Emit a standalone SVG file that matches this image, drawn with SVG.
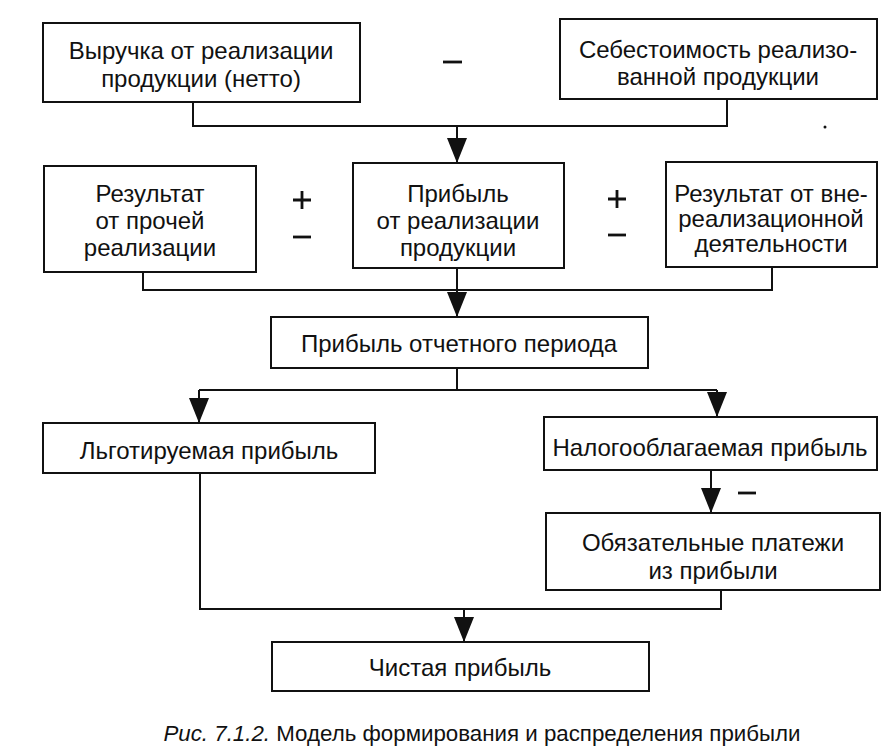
<svg xmlns="http://www.w3.org/2000/svg" width="888" height="751" viewBox="0 0 888 751">
<defs>
<marker id="arr" viewBox="0 0 25 20" refX="25" refY="10" markerWidth="25" markerHeight="20" markerUnits="userSpaceOnUse" orient="auto">
<path d="M0,0 L25,10 L0,20 Z" fill="#111"/>
</marker>
<style>
rect.box{fill:#fff;stroke:#111;stroke-width:2}
text{font-family:"Liberation Sans",Arial,sans-serif;font-size:24px;fill:#111;text-anchor:middle}
.conn path{fill:none;stroke:#111;stroke-width:2}
.sign{stroke:#111;stroke-width:2.8;fill:none}
.cap{font-size:22.3px}
</style>
</defs>
<rect width="888" height="751" fill="#fff"/>

<g class="conn" id="connectors">
<path d="M193,102 V126 H727 V99"/>
<path d="M457,126 V163" marker-end="url(#arr)"/>
<path d="M143,272 V290 H772 V267"/>
<path d="M457,268 V317" marker-end="url(#arr)"/>
<path d="M457,368 V390"/>
<path d="M199,390 H717"/>
<path d="M199,390 V423" marker-end="url(#arr)"/>
<path d="M717,390 V417" marker-end="url(#arr)"/>
<path d="M711,470 V513" marker-end="url(#arr)"/>
<path d="M200,473 V609 H721 V590"/>
<path d="M464,609 V642" marker-end="url(#arr)"/>
</g>

<g id="signs">
<path class="sign" d="M443,62 H462"/>
<path class="sign" d="M293,200 H311 M302,191 V209"/>
<path class="sign" d="M293,237 H311"/>
<path class="sign" d="M608,199 H626 M617,190 V208"/>
<path class="sign" d="M608,235 H626"/>
<path class="sign" d="M738,493 H756"/>
<circle cx="825" cy="127" r="1.5" fill="#111"/>
</g>

<g id="revenue">
<rect class="box" x="43" y="23" width="317" height="79"/>
<text x="201" y="59">Выручка от реализации</text>
<text x="201" y="87">продукции (нетто)</text>
</g>

<g id="cost">
<rect class="box" x="560" y="19" width="317" height="80"/>
<text x="718" y="58">Себестоимость реализо-</text>
<text x="718" y="85">ванной продукции</text>
</g>

<g id="other-result">
<rect class="box" x="44" y="166" width="212" height="106"/>
<text x="150" y="202">Результат</text>
<text x="150" y="229">от прочей</text>
<text x="150" y="256">реализации</text>
</g>

<g id="sales-profit">
<rect class="box" x="353" y="163" width="211" height="105"/>
<text x="458" y="202">Прибыль</text>
<text x="458" y="229">от реализации</text>
<text x="458" y="256">продукции</text>
</g>

<g id="nonsales-result">
<rect class="box" x="666" y="162" width="211" height="105"/>
<text x="771" y="202">Результат от вне-</text>
<text x="771" y="227">реализационной</text>
<text x="771" y="252">деятельности</text>
</g>

<g id="period-profit">
<rect class="box" x="271" y="317" width="377" height="51"/>
<text x="459" y="352">Прибыль отчетного периода</text>
</g>

<g id="privileged-profit">
<rect class="box" x="43" y="423" width="332" height="50"/>
<text x="209" y="459">Льготируемая прибыль</text>
</g>

<g id="taxable-profit">
<rect class="box" x="544" y="417" width="333" height="53"/>
<text x="710" y="456">Налогооблагаемая прибыль</text>
</g>

<g id="mandatory-payments">
<rect class="box" x="546" y="513" width="334" height="77"/>
<text x="713" y="551">Обязательные платежи</text>
<text x="713" y="579">из прибыли</text>
</g>

<g id="net-profit">
<rect class="box" x="272" y="642" width="377" height="49"/>
<text x="460" y="676">Чистая прибыль</text>
</g>

<text class="cap" x="482" y="741"><tspan font-style="italic">Рис. 7.1.2.</tspan> Модель формирования и распределения прибыли</text>
</svg>
